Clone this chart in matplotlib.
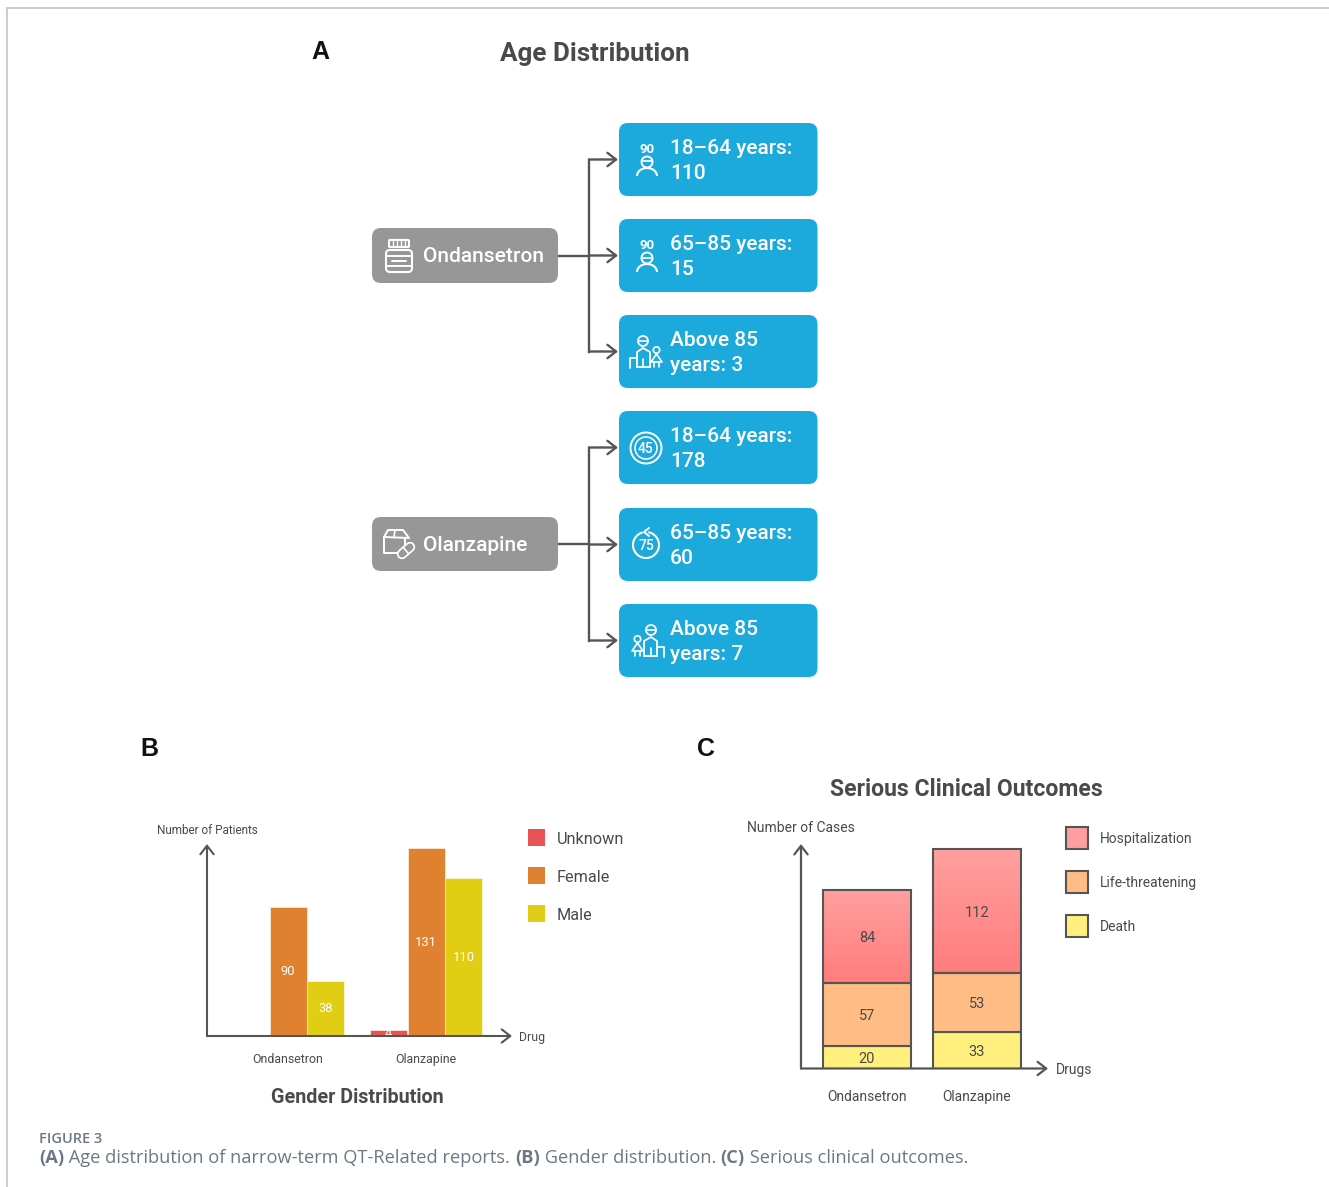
import numpy as np
import matplotlib
matplotlib.use("Agg")
import matplotlib.pyplot as plt
from matplotlib.patches import FancyBboxPatch, Rectangle, Circle, Arc

plt.rcParams["font.family"] = ["Roboto", "DejaVu Sans"]

# Panel A
age_labels = ["18–64 years:\n{}", "65–85 years:\n{}", "Above 85\nyears: {}"]
age_ondansetron = [110, 15, 3]
age_olanzapine = [178, 60, 7]

# Panel B
drugs = ["Ondansetron", "Olanzapine"]
gender_labels = ["Unknown", "Female", "Male"]
gender_colors = ["#E85454", "#DF812E", "#E0CD14"]
gender_unknown = [0, 4]
gender_female = [90, 131]
gender_male = [38, 110]

# Panel C
outcome_labels = ["Hospitalization", "Life-threatening", "Death"]
outcome_colors = ["#FF9E9E", "#FFBD85", "#FFF07E"]
outcome_death = [20, 33]
outcome_life = [57, 53]
outcome_hosp = [84, 112]

caption_title = "FIGURE 3"
caption_parts = [("(A)", True), (" Age distribution of narrow-term QT-Related reports. ", False),
                 ("(B)", True), (" Gender distribution. ", False),
                 ("(C)", True), (" Serious clinical outcomes.", False)]

W, H = 1329, 1187
dark = "#4A4A4A"
line = "#555555"
cap_color = "#6C7885"

fig = plt.figure(figsize=(W / 100, H / 100), dpi=100, facecolor="white")

# whole figure in pixel coordinates for the flow diagram and the texts
bg = fig.add_axes([0, 0, 1, 1])
bg.set_xlim(0, W)
bg.set_ylim(H, 0)
bg.axis("off")
bg.set_zorder(5)


def axes_px(left, right, top, bottom):
    ax = fig.add_axes([left / W, 1 - bottom / H, (right - left) / W, (bottom - top) / H])
    ax.patch.set_alpha(0)
    for s in ax.spines.values():
        s.set_visible(False)
    ax.set_yticks([])
    ax.tick_params(length=0)
    return ax


def arrow(x0, y0, x1, y1, lw=1.7):
    bg.annotate("", xy=(x1, y1), xytext=(x0, y0), zorder=6,
                arrowprops=dict(arrowstyle="->,head_length=0.62,head_width=0.48", color=line, lw=lw,
                                shrinkA=0, shrinkB=0))


def box(x0, y0, x1, y1, color):
    r = 9
    bg.add_patch(FancyBboxPatch((x0 + r, y0 + r), x1 - x0 - 2 * r, y1 - y0 - 2 * r,
                                boxstyle=f"round,pad={r},rounding_size={r}", fc=color, ec="none", zorder=3))


def ic_rect(x0, y0, w, h, r=2, lw=1.5):
    bg.add_patch(FancyBboxPatch((x0 + r, y0 + r), w - 2 * r, h - 2 * r, boxstyle=f"round,pad={r},rounding_size={r}",
                                fc="none", ec="white", lw=lw, zorder=5))


def ic_line(xs, ys, lw=1.4):
    bg.plot(xs, ys, color="white", lw=lw, zorder=5, solid_capstyle="round")


def ic_circle(x, y, r, lw=1.4):
    bg.add_patch(Circle((x, y), r, fc="none", ec="white", lw=lw, zorder=5))


def shoulders(x, y, w, h):
    bg.add_patch(Arc((x, y + h), w, 2 * h, theta1=180, theta2=360, ec="white", lw=1.5, zorder=5))


def bottle_icon():
    ic_rect(389, 240, 20, 7, 1)
    for x in [393, 397, 401, 405]:
        ic_line([x, x], [241, 246], 1)
    ic_rect(386, 250, 26, 22, 4)
    ic_line([386, 412], [256, 256])
    ic_line([386, 412], [266, 266])
    ic_line([392, 406], [261, 261])


def pack_icon():
    ic_line([384, 384, 401], [537, 553, 553])
    ic_line([384, 388, 403, 409, 384], [537, 530, 530, 538, 537])
    ic_line([395, 394], [530, 537], 1.2)
    ic_line([405, 405], [538, 545], 1.4)
    bg.plot([402, 410], [554, 547], color="white", lw=7.5, zorder=5, solid_capstyle="round")
    bg.plot([402, 410], [554, 547], color="#979797", lw=5, zorder=5, solid_capstyle="round")
    ic_line([403, 408], [547, 553], 1.2)


def person_icon(cy, hat):
    bg.text(647, cy - 10.5, "90", color="white", fontsize=9.5, weight="bold", ha="center", va="center", zorder=5)
    ic_circle(647, cy + 2, 5.5)
    if hat:
        ic_line([642, 652], [cy + 1, cy + 1], 1.2)
    else:
        ic_line([643, 651], [cy + 2, cy + 2], 1.2)
    shoulders(647, cy + 8, 20, 8)


def family_icon(x, cy, flip):
    s = -1 if flip else 1
    ic_circle(x - 4 * s, cy - 12, 5, 1.3)
    ic_line([x - 4 * s - 5, x - 4 * s + 5], [cy - 12, cy - 12], 1.1)
    ic_line([x - 10 * s, x - 10 * s, x - 4 * s, x + 3 * s, x + 3 * s],
            [cy + 14, cy - 1, cy - 5, cy - 1, cy + 14], 1.3)
    ic_line([x - 10 * s, x + 3 * s], [cy + 14, cy + 14], 1.3)
    ic_line([x - 4 * s, x - 4 * s], [cy + 14, cy + 6], 1.2)
    ic_line([x - 17 * s, x - 17 * s, x - 10 * s], [cy + 15, cy + 5, cy + 5], 1.3)
    ic_circle(x + 9.5 * s, cy - 3, 3.2, 1.2)
    ic_line([x + 9.5 * s, x + 4 * s, x + 15 * s, x + 9.5 * s], [cy + 1, cy + 9, cy + 9, cy + 1], 1.2)
    ic_line([x + 7 * s, x + 7 * s], [cy + 9, cy + 14], 1.2)
    ic_line([x + 12 * s, x + 12 * s], [cy + 9, cy + 14], 1.2)


def dial_icon(cy, txt, double):
    if double:
        ic_circle(646, cy, 15.5)
        bg.add_patch(Arc((646, cy), 22, 22, theta1=0, theta2=360, ec="white", lw=1.1, zorder=5))
        bg.text(646, cy + 1, txt, color="white", fontsize=10, weight="medium", ha="center", va="center", zorder=5)
    else:
        bg.add_patch(Arc((646, cy + 1), 26, 26, theta1=-80, theta2=255, ec="white", lw=1.5, zorder=5))
        ic_line([649, 644, 649], [cy - 16, cy - 12, cy - 8], 1.4)
        bg.text(646, cy + 2, txt, color="white", fontsize=10, weight="medium", ha="center", va="center", zorder=5)


def draw_group(gray_top, gray_bottom, name, values, box_tops):
    box(372, gray_top, 558, gray_bottom, "#979797")
    mid = (gray_top + gray_bottom) / 2
    bg.text(423, mid + 1.5, name, color="white", fontsize=15.1, weight="medium", va="center", zorder=5)
    centers = [t + 36.5 for t in box_tops]
    bg.plot([589, 589], [centers[0], centers[-1]], color=line, lw=1.7, zorder=2)
    bg.plot([558, 589], [mid, mid], color=line, lw=1.7, zorder=2)
    for t, c, lab, v in zip(box_tops, centers, age_labels, values):
        arrow(589, c, 618, c)
        box(619, t, 817.5, t + 73, "#1CA9DB")
        a, b = lab.format(v).split("\n")
        bg.text(670, c - 11, a, color="white", fontsize=15, weight="medium", va="center", zorder=5)
        bg.text(670, c + 14, b, color="white", fontsize=15, weight="medium", va="center", zorder=5)


bg.plot([7, W], [8, 8], color="#C4C4C4", lw=1.2)
bg.plot([7, 7], [8, H], color="#C4C4C4", lw=1.2)

bg.text(320.5, 52, "A", fontsize=18, weight="bold", family="Liberation Sans", color="#111111", ha="center", va="center")
bg.text(149.5, 749, "B", fontsize=18, weight="bold", family="Liberation Sans", color="#111111", ha="center", va="center")
bg.text(706, 749, "C", fontsize=18, weight="bold", family="Liberation Sans", color="#111111", ha="center", va="center")
bg.text(595, 54, "Age Distribution", fontsize=18.7, weight="bold", color=dark, ha="center", va="center")

draw_group(228, 283, drugs[0], age_ondansetron, [123, 219, 315])
draw_group(517, 571, drugs[1], age_olanzapine, [411, 508, 604])
bottle_icon()
pack_icon()
person_icon(160, True)
person_icon(256, False)
family_icon(647, 353, False)
dial_icon(448, "45", True)
dial_icon(544, "75", False)
family_icon(647, 642, True)

# Panel B
axb = axes_px(207, 512, 845, 1036)
x = np.arange(len(drugs))
bar_w = 37 / 138
series_b = [gender_unknown, gender_female, gender_male]
for i, (vals, col) in enumerate(zip(series_b, gender_colors)):
    off = (i - 1) * 37.5 / 138
    bars = axb.bar(x + off, vals, bar_w, color=col, edgecolor="white", lw=0.4, clip_on=False)
    for b, v in zip(bars, vals):
        if v > 0:
            axb.text(b.get_x() + b.get_width() / 2, v / 2, str(v), color="white", fontsize=9.3,
                     ha="center", va="center", clip_on=False)
axb.set_xlim((207 - 288) / 138, (512 - 288) / 138)
axb.set_ylim(0, 191 / 1.435)
axb.set_xticks(x, drugs, fontsize=8.9, color=dark)
axb.tick_params(axis="x", pad=12.5)

arrow(207, 1036, 512, 1036, 1.5)
arrow(207, 1036, 207, 844, 1.5)
bg.text(207, 830, "Number of Patients", fontsize=8.5, color=dark, ha="center", va="center")
bg.text(519, 1037, "Drug", fontsize=8.8, color=dark, va="center")
bg.text(357.5, 1097.5, "Gender Distribution", fontsize=14.2, weight="bold", color=dark, ha="center", va="center")
for y, lab, col in zip([829, 867, 905], gender_labels, gender_colors):
    bg.add_patch(Rectangle((528, y), 17, 17, fc=col, ec="none"))
    bg.text(557, y + 10.5, lab, fontsize=11.7, color=dark, va="center")

# Panel C
axc = axes_px(801, 1047, 845, 1068.5)
xc = np.arange(len(drugs))
death = np.array(outcome_death)
life = np.array(outcome_life)
hosp = np.array(outcome_hosp)
grad = np.linspace(0, 1, 64).reshape(-1, 1, 1) * np.array([0, -36, -36]) + np.array([255, 160, 160])
for i in range(len(drugs)):
    axc.imshow(grad / 255, extent=(xc[i] - 0.4, xc[i] + 0.4, death[i] + life[i], death[i] + life[i] + hosp[i]),
               origin="upper", aspect="auto", zorder=1, interpolation="bilinear")
edge = dict(edgecolor="#555555", lw=1.5, width=0.8)
axc.bar(xc, death, color=outcome_colors[2], **edge)
axc.bar(xc, life, bottom=death, color=outcome_colors[1], **edge)
axc.bar(xc, hosp, bottom=death + life, color="none", **edge, zorder=2)
for i in range(len(drugs)):
    axc.text(xc[i], death[i] / 2, str(death[i]), fontsize=10.5, color=dark, ha="center", va="center_baseline")
    axc.text(xc[i], death[i] + life[i] / 2, str(life[i]), fontsize=10.5, color=dark, ha="center", va="center_baseline")
    axc.text(xc[i], death[i] + life[i] + hosp[i] / 2, str(hosp[i]), fontsize=10.5, color=dark, ha="center",
             va="center_baseline")
axc.set_xlim((801 - 867) / 110, (1047 - 867) / 110)
axc.set_ylim(0, 223.5 / 1.108)
axc.set_xticks(xc, drugs, fontsize=10, color=dark)
axc.tick_params(axis="x", pad=15.5)

arrow(801, 1068.5, 1048, 1068.5, 1.6)
arrow(801, 1068.5, 801, 844, 1.6)
bg.text(801, 828, "Number of Cases", fontsize=10, color=dark, ha="center", va="center")
bg.text(1056, 1070, "Drugs", fontsize=10, color=dark, va="center")
bg.text(966, 789.5, "Serious Clinical Outcomes", fontsize=16.6, weight="bold", color=dark, ha="center", va="center")
for y, lab, col in zip([827, 871, 915], outcome_labels, outcome_colors):
    bg.add_patch(Rectangle((1065.5, y), 22, 22, fc=col, ec="#555555", lw=1.5))
    bg.text(1100, y + 12, lab, fontsize=10, color=dark, va="center")

# Caption
bg.text(39, 1139, caption_title, fontsize=10.5, weight="semibold", family="Open Sans", color=cap_color, va="center")
fig.canvas.draw()
rend = fig.canvas.get_renderer()
cx = 39
for txt, bold in caption_parts:
    t = bg.text(cx, 1158, txt, fontsize=13.15, family="Open Sans", weight="bold" if bold else "normal",
                color=cap_color, va="center")
    # trailing spaces count in the extent through a padded probe
    probe = bg.text(0, 0, txt.replace(" ", "\u00a0"), fontsize=13.15, family="Open Sans",
                    weight="bold" if bold else "normal")
    cx += probe.get_window_extent(rend).width
    probe.remove()

fig.savefig("out.png", dpi=100)
